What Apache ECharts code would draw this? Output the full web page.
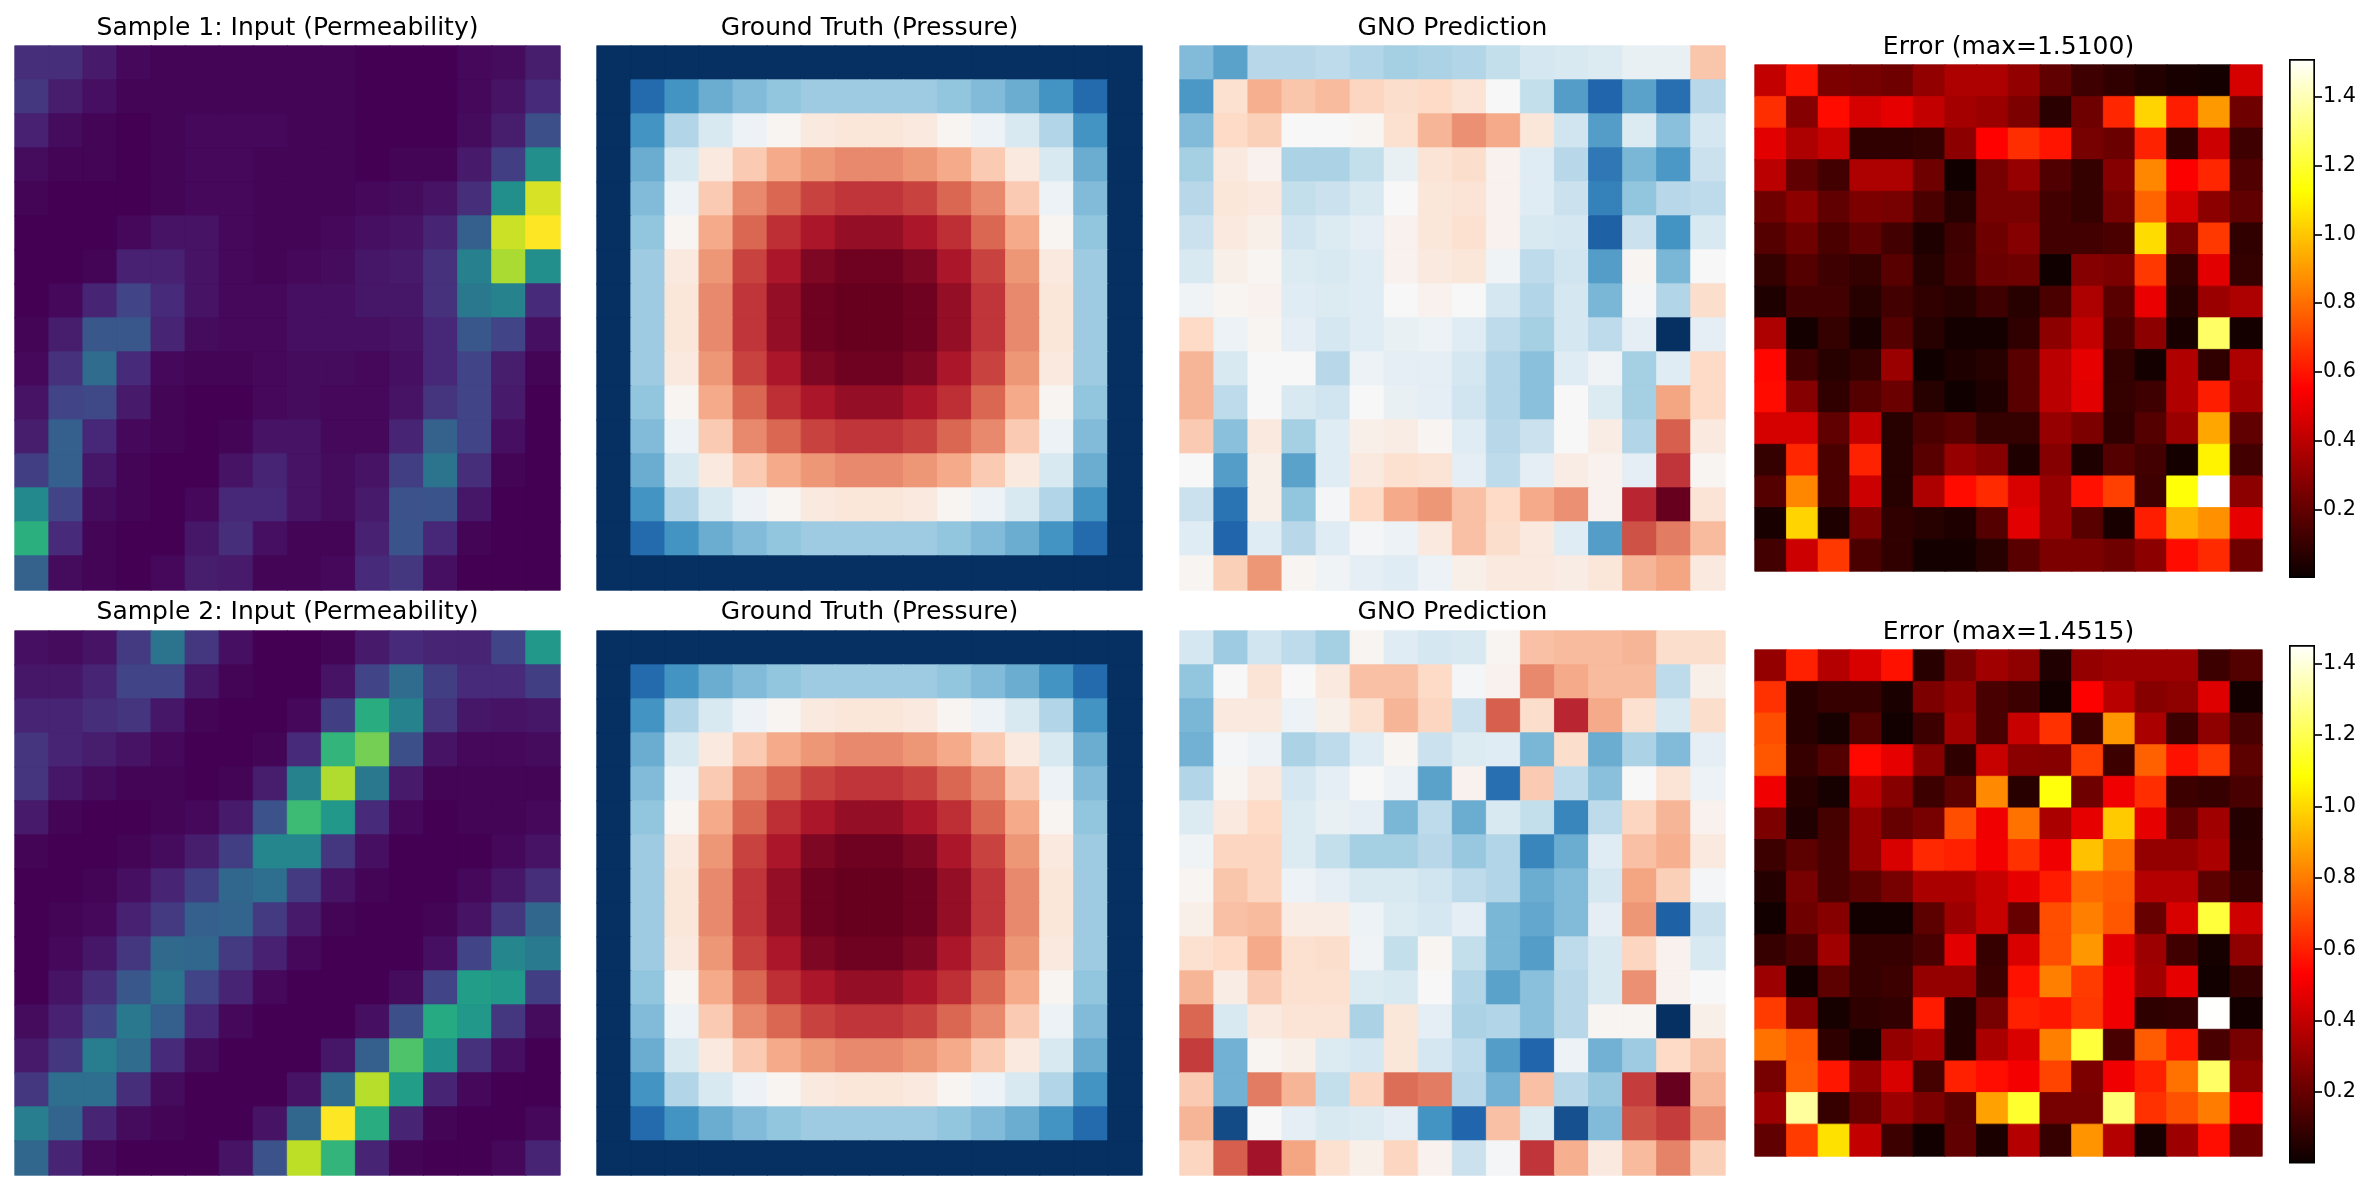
<!DOCTYPE html>
<html>
<head>
<meta charset="utf-8">
<title>GNO samples</title>
<script src="https://cdn.jsdelivr.net/npm/echarts@6/dist/echarts.min.js"></script>
<style>
  html, body { margin: 0; padding: 0; background: #fff; }
  #chart { width: 2377px; height: 1190px; }
</style>
</head>
<body>
<div id="chart"></div>
<script>
// Normalised permeability fields (0..1 on viridis)
const perm1 = [
[.13,.13,.07,.02,.01,.01,.01,.01,.01,.01,0,0,0,.02,.03,.08],
[.16,.08,.04,.01,.01,.01,.01,.01,.01,.01,0,0,0,.02,.05,.12],
[.09,.03,.01,0,.01,.02,.02,.02,.01,.01,0,0,0,.03,.08,.24],
[.03,.01,.01,0,.01,.02,.02,.01,.01,.01,0,.01,.01,.07,.18,.49],
[.01,0,0,0,.01,.02,.02,.01,.01,.01,.02,.03,.05,.13,.49,.94],
[0,0,0,.02,.05,.05,.02,.01,.01,.02,.04,.05,.1,.3,.92,1],
[0,0,.01,.09,.09,.05,.02,.01,.02,.03,.06,.07,.14,.43,.87,.49],
[0,.02,.1,.2,.12,.05,.02,.02,.04,.04,.06,.06,.14,.4,.44,.12],
[.01,.08,.27,.27,.1,.03,.02,.02,.04,.04,.04,.05,.11,.27,.2,.04],
[.02,.14,.35,.12,.02,.01,.01,.02,.03,.03,.02,.04,.11,.2,.08,.01],
[.05,.2,.22,.07,.01,0,0,.02,.03,.02,.02,.05,.15,.2,.07,0],
[.08,.3,.11,.02,.01,0,.01,.05,.05,.02,.02,.1,.31,.2,.04,0],
[.18,.3,.06,.01,0,0,.05,.1,.05,.03,.05,.18,.38,.13,.01,0],
[.47,.2,.03,.01,0,.02,.11,.11,.05,.03,.07,.25,.26,.06,0,0],
[.63,.12,.01,0,0,.06,.13,.04,.01,.01,.09,.26,.11,.01,0,0],
[.31,.03,.01,0,.02,.08,.07,.01,.01,.02,.12,.16,.04,0,0,0]
];
const perm2 = [
[.04,.03,.05,.17,.38,.16,.04,0,0,.01,.07,.12,.1,.1,.2,.53],
[.06,.06,.1,.2,.2,.06,.01,0,0,.05,.2,.35,.18,.12,.12,.18],
[.1,.1,.13,.15,.06,.01,0,0,.02,.18,.62,.44,.15,.06,.05,.06],
[.15,.1,.08,.05,.02,0,0,.01,.12,.65,.79,.24,.05,.02,.02,.03],
[.15,.06,.03,.01,.01,0,.01,.08,.44,.88,.4,.07,.01,.01,.01,.01],
[.07,.01,0,0,.01,.02,.07,.25,.68,.53,.12,.02,0,.01,.01,.02],
[.01,0,0,.01,.03,.08,.18,.46,.46,.16,.04,0,0,0,.02,.05],
[0,0,.01,.04,.1,.18,.33,.36,.17,.05,.01,0,0,.02,.06,.13],
[0,.01,.02,.09,.17,.3,.32,.17,.07,.01,0,0,.01,.05,.16,.33],
[0,.02,.06,.16,.34,.33,.17,.09,.02,0,0,0,.04,.2,.46,.41],
[0,.05,.13,.27,.38,.2,.1,.02,0,0,0,.03,.2,.55,.53,.18],
[.03,.09,.2,.4,.3,.11,.02,0,0,0,.04,.24,.61,.53,.16,.03],
[.07,.16,.42,.35,.12,.03,0,0,0,.06,.3,.72,.5,.14,.04,0],
[.16,.36,.36,.13,.03,0,0,0,.05,.35,.89,.55,.1,.02,0,0],
[.42,.32,.1,.03,.01,0,0,.05,.33,1,.62,.1,.01,0,0,.02],
[.33,.1,.02,0,0,0,.05,.25,.9,.65,.1,.01,0,0,.02,.1]
];
// Ground-truth pressure, normalised (0..1 on RdBu reversed)
const pressure = [
[0,0,0,0,0,0,0,0,0,0,0,0,0,0,0,0],
[0,.11,.2,.25,.28,.3,.32,.32,.32,.32,.3,.28,.25,.2,.11,0],
[0,.2,.35,.42,.47,.51,.55,.56,.56,.55,.51,.47,.42,.35,.2,0],
[0,.25,.42,.55,.63,.69,.72,.74,.74,.72,.69,.63,.55,.42,.25,0],
[0,.28,.47,.63,.74,.79,.84,.86,.86,.84,.79,.74,.63,.47,.28,0],
[0,.3,.51,.69,.79,.87,.91,.94,.94,.91,.87,.79,.69,.51,.3,0],
[0,.32,.55,.72,.84,.91,.97,.99,.99,.97,.91,.84,.72,.55,.32,0],
[0,.32,.56,.74,.86,.94,.99,1,1,.99,.94,.86,.74,.56,.32,0],
[0,.32,.56,.74,.86,.94,.99,1,1,.99,.94,.86,.74,.56,.32,0],
[0,.32,.55,.72,.84,.91,.97,.99,.99,.97,.91,.84,.72,.55,.32,0],
[0,.3,.51,.69,.79,.87,.91,.94,.94,.91,.87,.79,.69,.51,.3,0],
[0,.28,.47,.63,.74,.79,.84,.86,.86,.84,.79,.74,.63,.47,.28,0],
[0,.25,.42,.55,.63,.69,.72,.74,.74,.72,.69,.63,.55,.42,.25,0],
[0,.2,.35,.42,.47,.51,.55,.56,.56,.55,.51,.47,.42,.35,.2,0],
[0,.11,.2,.25,.28,.3,.32,.32,.32,.32,.3,.28,.25,.2,.11,0],
[0,0,0,0,0,0,0,0,0,0,0,0,0,0,0,0]
];
// Model predictions, normalised per sample
const pred1 = [
[.28,.23,.36,.36,.37,.35,.33,.34,.35,.38,.41,.42,.43,.46,.46,.64],
[.21,.58,.68,.64,.66,.61,.59,.6,.57,.5,.38,.22,.1,.23,.12,.36],
[.28,.6,.62,.5,.5,.51,.58,.67,.73,.69,.56,.4,.22,.43,.29,.41],
[.33,.55,.52,.34,.34,.38,.46,.57,.59,.52,.44,.36,.14,.27,.21,.39],
[.36,.56,.55,.38,.39,.42,.5,.56,.57,.52,.44,.39,.16,.3,.36,.37],
[.39,.55,.53,.4,.43,.45,.52,.56,.58,.52,.42,.41,.09,.39,.2,.42],
[.42,.53,.51,.43,.42,.44,.52,.55,.56,.48,.37,.4,.22,.51,.27,.5],
[.48,.51,.52,.44,.43,.44,.5,.52,.5,.41,.35,.41,.27,.49,.35,.59],
[.6,.47,.51,.45,.41,.44,.46,.47,.44,.37,.33,.41,.37,.45,0,.45],
[.67,.42,.5,.5,.36,.47,.45,.45,.41,.35,.29,.44,.48,.33,.44,.6],
[.67,.37,.5,.42,.4,.5,.46,.45,.4,.35,.29,.5,.43,.33,.7,.6],
[.63,.29,.55,.33,.44,.53,.54,.51,.44,.36,.39,.5,.54,.35,.8,.55],
[.5,.22,.53,.23,.44,.55,.58,.57,.45,.37,.45,.54,.52,.45,.86,.51],
[.39,.13,.53,.3,.49,.6,.69,.72,.65,.6,.69,.73,.52,.88,1,.57],
[.44,.1,.44,.36,.44,.49,.47,.55,.65,.59,.55,.44,.22,.82,.76,.66],
[.51,.62,.72,.51,.48,.45,.44,.47,.53,.55,.55,.54,.56,.67,.7,.55]
];
const pred2 = [
[.41,.32,.4,.37,.33,.51,.44,.41,.42,.51,.65,.66,.66,.67,.59,.59],
[.3,.5,.57,.5,.55,.65,.65,.6,.49,.52,.74,.69,.66,.66,.37,.53],
[.27,.55,.55,.47,.53,.58,.67,.61,.39,.8,.59,.88,.69,.58,.42,.59],
[.26,.49,.47,.34,.37,.44,.51,.39,.43,.44,.27,.59,.25,.34,.28,.45],
[.35,.51,.55,.41,.45,.5,.47,.23,.52,.12,.63,.37,.29,.5,.57,.47],
[.43,.55,.6,.43,.46,.45,.27,.37,.25,.42,.38,.17,.37,.61,.67,.52],
[.48,.61,.61,.43,.38,.33,.33,.36,.31,.35,.17,.25,.44,.65,.68,.55],
[.51,.64,.61,.47,.45,.42,.42,.4,.37,.35,.25,.28,.41,.7,.62,.49],
[.53,.65,.66,.54,.54,.47,.43,.41,.45,.27,.24,.28,.45,.72,.09,.39],
[.58,.6,.69,.58,.59,.48,.38,.51,.38,.27,.22,.37,.42,.61,.52,.42],
[.67,.54,.63,.58,.58,.43,.42,.5,.35,.23,.29,.36,.42,.73,.52,.5],
[.79,.42,.55,.57,.57,.34,.56,.45,.34,.35,.29,.36,.51,.51,0,.53],
[.85,.26,.51,.53,.43,.41,.56,.41,.37,.22,.1,.47,.26,.32,.6,.64],
[.63,.26,.76,.67,.38,.61,.78,.76,.36,.26,.65,.36,.31,.85,1,.67],
[.67,.05,.5,.45,.42,.43,.45,.2,.1,.65,.43,.06,.28,.82,.85,.73],
[.61,.8,.92,.7,.58,.53,.61,.52,.39,.49,.86,.68,.55,.66,.75,.62]
];
// Absolute error per cell, in physical units
const err1 = [
[.42,.6,.26,.25,.23,.31,.37,.37,.31,.2,.12,.09,.06,.04,.03,.46],
[.66,.28,.58,.46,.5,.42,.35,.33,.26,.08,.23,.64,1.03,.62,.9,.23],
[.49,.37,.43,.09,.09,.1,.3,.56,.66,.6,.25,.22,.63,.09,.44,.12],
[.4,.2,.13,.37,.37,.23,.02,.25,.32,.16,.1,.28,.86,.55,.64,.16],
[.23,.3,.2,.26,.25,.15,.07,.25,.25,.13,.1,.25,.78,.46,.3,.2],
[.17,.23,.15,.2,.13,.05,.12,.23,.28,.13,.13,.15,1.05,.25,.68,.09],
[.1,.17,.12,.1,.18,.07,.13,.22,.23,.02,.28,.26,.68,.1,.49,.1],
[.05,.13,.13,.07,.13,.09,.07,.12,.07,.15,.37,.18,.51,.07,.33,.37],
[.37,.03,.1,.04,.17,.07,.03,.03,.09,.3,.42,.15,.3,.04,1.28,.03],
[.57,.13,.07,.1,.33,.02,.05,.07,.18,.4,.5,.1,.03,.38,.09,.37],
[.58,.28,.09,.17,.22,.07,.02,.05,.18,.4,.49,.1,.12,.38,.62,.35],
[.46,.46,.2,.42,.07,.15,.18,.1,.1,.32,.26,.09,.17,.33,.93,.2],
[.1,.64,.15,.63,.07,.18,.32,.28,.05,.28,.05,.17,.13,.03,1.1,.13],
[.17,.86,.15,.44,.07,.37,.58,.65,.47,.32,.59,.7,.12,1.14,1.51,.3],
[.04,1.03,.05,.26,.09,.07,.05,.17,.49,.32,.18,.04,.62,.95,.88,.5],
[.13,.44,.68,.15,.09,.03,.03,.07,.18,.26,.26,.23,.3,.58,.65,.23]
];
const err2 = [
[.3,.6,.37,.45,.57,.07,.24,.33,.29,.05,.3,.32,.32,.32,.11,.16],
[.64,.07,.1,.1,.04,.25,.3,.14,.11,.02,.53,.38,.27,.29,.46,.02],
[.7,.07,.03,.16,.02,.11,.33,.14,.41,.64,.11,.86,.35,.11,.29,.14],
[.72,.1,.16,.55,.48,.27,.08,.41,.28,.27,.67,.11,.74,.57,.65,.18],
[.5,.07,.03,.38,.27,.11,.18,.83,.07,1.1,.22,.5,.63,.11,.1,.14],
[.25,.05,.13,.3,.2,.24,.7,.5,.78,.35,.48,.97,.48,.19,.33,.06],
[.11,.18,.14,.3,.45,.62,.6,.51,.64,.5,.95,.78,.3,.3,.35,.07],
[.06,.24,.14,.18,.24,.35,.35,.41,.48,.59,.76,.73,.37,.37,.18,.1],
[.02,.22,.27,.02,.02,.18,.32,.41,.2,.7,.81,.72,.2,.45,1.17,.43],
[.1,.14,.33,.1,.1,.14,.47,.1,.45,.7,.86,.47,.32,.12,.03,.29],
[.32,.02,.18,.1,.11,.3,.3,.11,.57,.81,.66,.5,.33,.48,.02,.1],
[.66,.27,.03,.08,.09,.59,.06,.24,.6,.58,.65,.5,.08,.09,1.45,.02],
[.78,.72,.08,.03,.3,.35,.06,.35,.45,.81,1.17,.14,.73,.58,.14,.24],
[.24,.73,.58,.3,.45,.13,.6,.56,.51,.68,.25,.5,.6,.78,1.23,.29],
[.32,1.31,.1,.2,.32,.25,.18,.88,1.15,.24,.24,1.25,.64,.71,.8,.53],
[.19,.66,1.02,.4,.11,.02,.19,.04,.37,.1,.85,.37,.03,.32,.56,.22]
];
const colorbarTicks = [0.2, 0.4, 0.6, 0.8, 1.0, 1.2, 1.4];
const errRange1 = [0.006, 1.51];
const errRange2 = [0.004, 1.4515];
const titles1 = ['Sample 1: Input (Permeability)', 'Ground Truth (Pressure)', 'GNO Prediction', 'Error (max=1.5100)'];
const titles2 = ['Sample 2: Input (Permeability)', 'Ground Truth (Pressure)', 'GNO Prediction', 'Error (max=1.4515)'];

// Colour maps
const viridis = ['#440154','#482475','#414487','#355f8d','#2a788e','#21918c','#22a884','#44bf70','#7ad151','#bddf26','#fde725'];
const rdbuR = ['#053061','#2166ac','#4393c3','#92c5de','#d1e5f0','#f7f7f7','#fddbc7','#f4a582','#d6604d','#b2182b','#67001f'];
function hotAt(t) {
  const ramp = (a, b, lo) => Math.round(255 * Math.min(1, Math.max(lo, lo + (t - a) / (b - a) * (1 - lo))));
  const r = t < 0 ? 11 : ramp(0, 0.365079, 0.0416);
  const g = t < 0.365079 ? 0 : ramp(0.365079, 0.746032, 0);
  const b = t < 0.746032 ? 0 : ramp(0.746032, 1, 0);
  return `rgb(${r},${g},${b})`;
}
const hot = Array.from({ length: 129 }, (_, i) => hotAt(i / 128));

// Layout of the panels, in pixels
const columns = [[15, 560], [597, 1142], [1180, 1725]];
const rows = [[46, 590], [631, 1175]];
const errColumn = [1755, 2262];
const errRows = [[65, 571], [650, 1156]];
const barColumn = [2289, 2315];
const barRows = [[59, 576], [645, 1162]];
const titleFont = { fontFamily: 'DejaVu Sans', fontSize: 25, fontWeight: 'normal', color: '#000' };
const W = 2377, H = 1190;

const option = {
  animation: false, backgroundColor: '#fff',
  title: [], grid: [], xAxis: [], yAxis: [], visualMap: [], series: []
};
const indices = Array.from({ length: 16 }, (_, i) => String(i));

function addHeatmap(matrix, box, vBox, colors, range, title, titleTop) {
  const g = option.grid.length;
  option.grid.push({ left: box[0], width: box[1] - box[0], top: vBox[0], height: vBox[1] - vBox[0] });
  option.xAxis.push({ type: 'category', data: indices, gridIndex: g, show: false });
  option.yAxis.push({ type: 'category', data: indices, gridIndex: g, inverse: true, show: false });
  const data = [];
  matrix.forEach((row, r) => row.forEach((v, c) => {
    // A hairline stroke in the cell's own colour closes the seams between fractional-width cells
    const t = Math.min(1, Math.max(0, (v - range[0]) / (range[1] - range[0])));
    const edge = echarts.color.lerp(t, colors);
    data.push({ value: [c, r, v], itemStyle: { color: edge, borderColor: edge, borderWidth: 0.8 } });
  }));
  const s = option.series.length;
  option.series.push({
    type: 'heatmap', xAxisIndex: g, yAxisIndex: g, data, silent: true, clip: true,
    progressive: 0, emphasis: { disabled: true }
  });
  option.visualMap.push({
    show: false, seriesIndex: s, min: range[0], max: range[1], dimension: 2, calculable: false,
    inRange: { color: colors, opacity: 1 }
  });
  option.title.push({
    text: title, left: (box[0] + box[1]) / 2, top: titleTop, textAlign: 'center', padding: 0,
    textStyle: titleFont
  });
}

function addColorbar(box, vBox, range) {
  const g = option.grid.length;
  option.grid.push({ left: box[0], width: box[1] - box[0], top: vBox[0], height: vBox[1] - vBox[0] });
  option.xAxis.push({ type: 'category', data: ['scale'], gridIndex: g, show: false });
  option.yAxis.push({
    type: 'value', gridIndex: g, position: 'right', min: range[0], max: range[1],
    axisLine: { show: false }, splitLine: { show: false },
    axisTick: { show: true, length: 7, customValues: colorbarTicks, lineStyle: { color: '#000', width: 1.67 } },
    axisLabel: {
      show: true, margin: 8, customValues: colorbarTicks, color: '#000', padding: [3, 0, 0, 0],
      fontFamily: 'DejaVu Sans', fontSize: 20.8, formatter: v => v.toFixed(1)
    }
  });
  option.series.push({
    type: 'bar', xAxisIndex: g, yAxisIndex: g, data: [range[1]], barWidth: '100%', silent: true, clip: false,
    itemStyle: {
      borderColor: '#000', borderWidth: 1.67,
      color: new echarts.graphic.LinearGradient(0, 1, 0, 0,
        hot.map((c, i) => ({ offset: i / (hot.length - 1), color: c })))
    }
  });
}

addHeatmap(perm1, columns[0], rows[0], viridis, [0, 1], titles1[0], 16);
addHeatmap(pressure, columns[1], rows[0], rdbuR, [0, 1], titles1[1], 16);
addHeatmap(pred1, columns[2], rows[0], rdbuR, [0, 1], titles1[2], 16);
addHeatmap(err1, errColumn, errRows[0], hot, errRange1, titles1[3], 35);
addColorbar(barColumn, barRows[0], errRange1);
addHeatmap(perm2, columns[0], rows[1], viridis, [0, 1], titles2[0], 600);
addHeatmap(pressure, columns[1], rows[1], rdbuR, [0, 1], titles2[1], 600);
addHeatmap(pred2, columns[2], rows[1], rdbuR, [0, 1], titles2[2], 600);
addHeatmap(err2, errColumn, errRows[1], hot, errRange2, titles2[3], 620);
addColorbar(barColumn, barRows[1], errRange2);

const chart = echarts.init(document.getElementById('chart'), null, { renderer: 'canvas', width: W, height: H });
chart.setOption(option);
</script>
</body>
</html>
